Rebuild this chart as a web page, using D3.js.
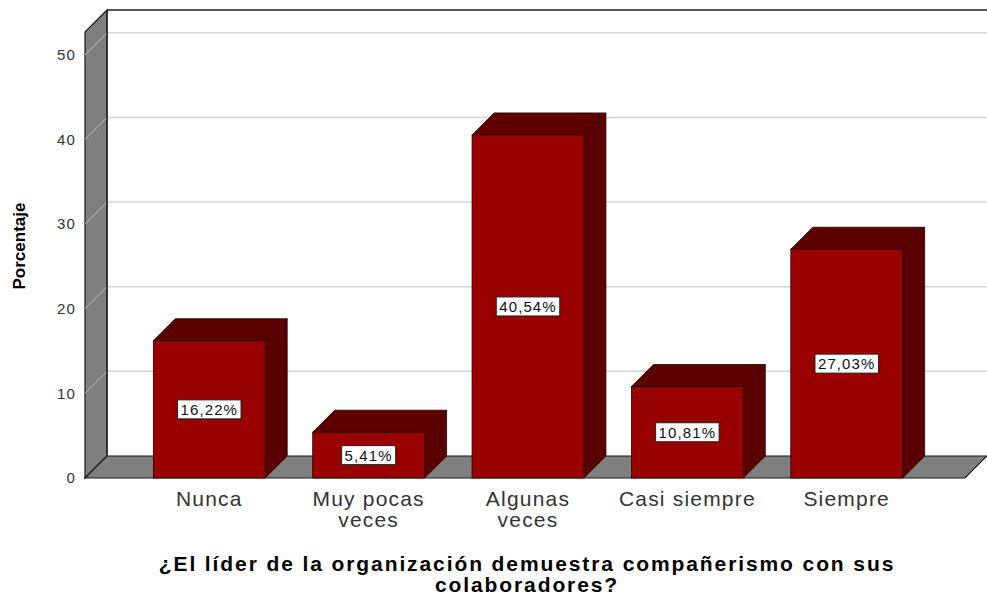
<!DOCTYPE html>
<html>
<head>
<meta charset="utf-8">
<script src="https://cdn.jsdelivr.net/npm/d3@7"></script>
<style>
  html, body { margin: 0; padding: 0; background: #fff; }
  text { font-family: "Liberation Sans", Arial, sans-serif; }
</style>
</head>
<body>
<div id="canvas"></div>
<script>
// data
const categories = ["Nunca", "Muy pocas veces", "Algunas veces", "Casi siempre", "Siempre"];
const categoryLines = [["Nunca"], ["Muy pocas", "veces"], ["Algunas", "veces"], ["Casi siempre"], ["Siempre"]];
const percentages = [16.22, 5.41, 40.54, 10.81, 27.03];
const yTicks = [0, 10, 20, 30, 40, 50];
const titleLines = ["¿El líder de la organización demuestra compañerismo con sus", "colaboradores?"];

const width = 987, height = 595;
const depth = 22;                 // 3d offset, back is up/right
const plotLeft = 85, plotRight = 965;     // front plane
const plotBottom = 478, plotTop = 32;

const svg = d3.select("#canvas")
    .append("svg")
    .attr("width", width)
    .attr("height", height);

const y = d3.scaleLinear()
    .domain([0, 52.7])
    .range([plotBottom, plotTop]);

const x = d3.scaleBand()
    .domain(categories)
    .range([plotLeft + 3, plotRight + 3])
    .paddingInner(0.298)
    .paddingOuter(0.41);

const comma = d3.formatLocale({ decimal: ",", thousands: ".", grouping: [3], currency: ["", ""] }).format(".2f");

// back wall grid
svg.append("g")
    .selectAll("line")
    .data(yTicks.filter(d => d > 0))
    .enter()
    .append("line")
    .attr("x1", plotLeft + depth).attr("x2", width)
    .attr("y1", d => y(d) - depth).attr("y2", d => y(d) - depth)
    .attr("stroke", "#d4d4d4")
    .attr("stroke-width", 1.5);

// side wall
svg.append("path")
    .attr("d", `M${plotLeft},${plotBottom} L${plotLeft},${plotTop} L${plotLeft + depth},${plotTop - depth} L${plotLeft + depth},${plotBottom - depth} Z`)
    .attr("fill", "#7f7f7f")
    .attr("stroke", "#1a1a1a")
    .attr("stroke-width", 1.2);

svg.append("g")
    .selectAll("line")
    .data(yTicks)
    .enter()
    .append("line")
    .attr("x1", plotLeft).attr("x2", plotLeft + depth)
    .attr("y1", d => y(d)).attr("y2", d => y(d) - depth)
    .attr("stroke", "#bdbdbd")
    .attr("stroke-width", 1);

// top frame line of back wall
svg.append("line")
    .attr("x1", plotLeft + depth).attr("x2", width)
    .attr("y1", plotTop - depth).attr("y2", plotTop - depth)
    .attr("stroke", "#222")
    .attr("stroke-width", 1.5);

// floor
svg.append("path")
    .attr("d", `M${plotLeft},${plotBottom} L${plotLeft + depth},${plotBottom - depth} L${plotRight + depth},${plotBottom - depth} L${plotRight},${plotBottom} Z`)
    .attr("fill", "#7f7f7f")
    .attr("stroke", "#1a1a1a")
    .attr("stroke-width", 1.2);

svg.append("line")
    .attr("x1", plotLeft + depth).attr("x2", plotLeft + depth)
    .attr("y1", plotTop - depth).attr("y2", plotBottom - depth)
    .attr("stroke", "#1a1a1a")
    .attr("stroke-width", 1.2);

// bars
const bars = svg.append("g")
    .selectAll("g")
    .data(percentages)
    .enter()
    .append("g");

const bw = x.bandwidth();

bars.append("path")   // top
    .attr("d", (d, i) => {
        const x0 = x(categories[i]), yt = y(d);
        return `M${x0},${yt} L${x0 + depth},${yt - depth} L${x0 + bw + depth},${yt - depth} L${x0 + bw},${yt} Z`;
    })
    .attr("fill", "#5e0000")
    .attr("stroke", "#2a0000")
    .attr("stroke-width", 0.8);

bars.append("path")   // side
    .attr("d", (d, i) => {
        const x1 = x(categories[i]) + bw, yt = y(d);
        return `M${x1},${yt} L${x1 + depth},${yt - depth} L${x1 + depth},${plotBottom - depth} L${x1},${plotBottom} Z`;
    })
    .attr("fill", "#5a0000")
    .attr("stroke", "#2a0000")
    .attr("stroke-width", 0.8);

bars.append("rect")   // front
    .attr("x", (d, i) => x(categories[i]))
    .attr("y", d => y(d))
    .attr("width", bw)
    .attr("height", d => plotBottom - y(d))
    .attr("fill", "#990000")
    .attr("stroke", "#2a0000")
    .attr("stroke-width", 0.8);

// value labels
bars.each(function (d, i) {
    const g = d3.select(this);
    const cx = x(categories[i]) + bw / 2;
    const cy = (y(d) + plotBottom) / 2;
    const t = g.append("text")
        .attr("x", cx)
        .attr("y", cy + 5.5)
        .attr("text-anchor", "middle")
        .attr("font-size", 15)
        .attr("letter-spacing", 1.1)
        .attr("fill", "#111")
        .text(comma(d) + "%");
    const bb = t.node().getBBox();
    g.insert("rect", "text")
        .attr("x", bb.x - 3)
        .attr("y", cy - 9.5)
        .attr("width", bb.width + 6)
        .attr("height", 19)
        .attr("fill", "#fff")
        .attr("stroke", "#222")
        .attr("stroke-width", 1);
});

// y axis
const yAxis = svg.append("g")
    .attr("transform", `translate(${plotLeft},0)`)
    .call(d3.axisLeft(y).tickValues(yTicks).tickSize(0).tickPadding(9));
yAxis.select(".domain").remove();
yAxis.selectAll("text")
    .attr("font-family", "Liberation Sans, Arial, sans-serif")
    .attr("font-size", 15)
    .attr("letter-spacing", 1.2)
    .attr("fill", "#333");

// x axis labels
const xAxis = svg.append("g")
    .attr("transform", `translate(0,${plotBottom})`)
    .call(d3.axisBottom(x).tickSize(0).tickFormat(""));
xAxis.select(".domain").remove();

svg.append("g")
    .selectAll("text")
    .data(categories)
    .enter()
    .append("text")
    .attr("x", d => x(d) + bw / 2)
    .attr("y", 506)
    .attr("text-anchor", "middle")
    .attr("font-size", 21)
    .attr("letter-spacing", 1.2)
    .attr("fill", "#333")
    .each(function (d, i) {
        const t = d3.select(this);
        categoryLines[i].forEach((line, j) => {
            t.append("tspan")
                .attr("x", x(d) + bw / 2)
                .attr("dy", j === 0 ? 0 : 21)
                .text(line);
        });
    });

// axis titles
svg.append("text")
    .attr("transform", "translate(25,246) rotate(-90)")
    .attr("text-anchor", "middle")
    .attr("font-size", 17)
    .attr("font-weight", "bold")
    .attr("fill", "#000")
    .text("Porcentaje");

svg.append("text")
    .attr("x", 527)
    .attr("y", 571)
    .attr("text-anchor", "middle")
    .attr("font-size", 21)
    .attr("font-weight", "bold")
    .attr("letter-spacing", 1.9)
    .attr("fill", "#000")
    .selectAll("tspan")
    .data(titleLines)
    .enter()
    .append("tspan")
    .attr("x", 527)
    .attr("dy", (d, i) => i === 0 ? 0 : 21)
    .text(d => d);
</script>
</body>
</html>
